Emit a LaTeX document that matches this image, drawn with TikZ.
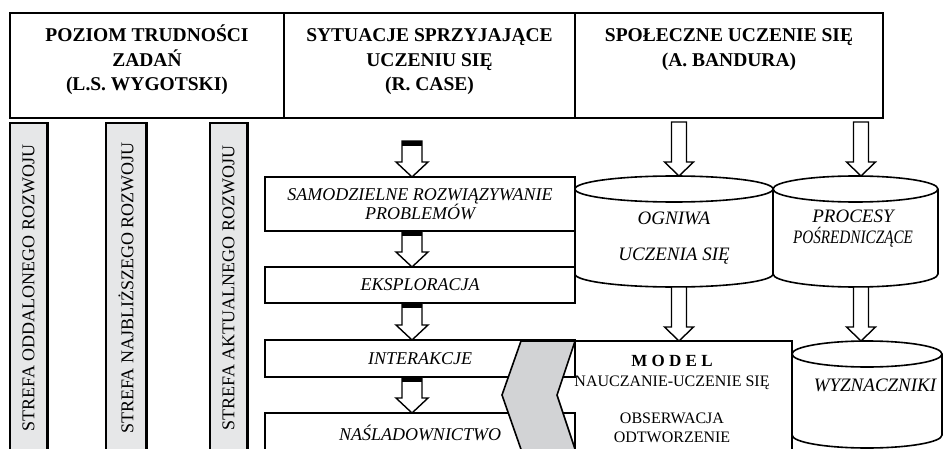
\documentclass[tikz,border=0pt]{standalone}
\usepackage{fontspec}
\setmainfont{Liberation Serif}
\usepackage{graphicx}
\usetikzlibrary{positioning,calc}
\definecolor{stripgray}{HTML}{E6E7E8}
\definecolor{arrowgray}{HTML}{D2D3D5}

% block arrow: shaft half width, head half width, head length, from, to
\newcommand{\fatarrow}[5]{%
  \draw[fatline] let \p1=(#4), \p2=(#5) in
    (\x1-#1pt,\y1) -- (\x1+#1pt,\y1) -- (\x1+#1pt,\y2+#3pt) -- (\x1+#2pt,\y2+#3pt)
    -- (\x1,\y2) -- (\x1-#2pt,\y2+#3pt) -- (\x1-#1pt,\y2+#3pt) -- cycle;}
\newcommand{\capband}[1]{%
  \fill let \p1=(#1) in (\x1-10pt,\y1) rectangle (\x1+10pt,\y1-5pt);}
% cylinder outline round a node: node name, x radius
\newcommand{\drumline}[2]{%
  \draw[drum line] ($(#1.north)+(0,13)$) ellipse[x radius=#2, y radius=13];
  \draw[drum line] ($(#1.north west)+(0,13)$) -- ($(#1.south west)+(0,-13)$)
    arc[start angle=180, end angle=0, x radius=#2, y radius=13]
    -- ($(#1.north east)+(0,13)$);}

\begin{document}
\begin{tikzpicture}[x=1pt, y=-1pt,
    hdrbox/.style={draw, line width=1.6, minimum height=105, inner sep=0, outer sep=0},
    hdrtext/.style={font=\fontsize{19.5}{24.5}\selectfont\bfseries, align=center, inner sep=0, anchor=base},
    strip/.style={draw, line width=1.1, fill=stripgray, rotate=90, minimum width=330, inner sep=0,
      font=\fontsize{18}{20}\selectfont},
    stepbox/.style={draw, line width=1.5, minimum width=310, inner sep=0, outer sep=0, align=center,
      font=\fontsize{18}{19}\selectfont\itshape},
    fatline/.style={draw, fill=white, line width=1.4},
    drum/.style={inner sep=0, outer sep=0},
    drum line/.style={line width=1.6},
    drumtext/.style={font=\fontsize{19}{21}\selectfont\itshape, align=center, inner sep=0},
    modeltext/.style={font=\fontsize{16}{19.5}\selectfont, align=center, inner sep=0},
    boxline/.style={line width=1.6}]
  \clip (0,0) rectangle (944,449);

  % header (text placed by the baseline of its last line)
  \node[hdrbox, minimum width=274] (zad) at (147,65.5) {};
  \node[hdrbox, minimum width=291] (sit) at (429.5,65.5) {};
  \node[hdrbox, minimum width=308] (spo) at (729,65.5) {};
  \node[hdrtext] (zad-t) at (147,91) {POZIOM TRUDNOŚCI\\ZADAŃ\\(L.S. WYGOTSKI)};
  \node[hdrtext] (sit-t) at (429.5,91) {SYTUACJE SPRZYJAJĄCE\\UCZENIU SIĘ\\(R. CASE)};
  \node[hdrtext] (spo-t) at (729,66.5) {SPOŁECZNE UCZENIE SIĘ\\(A. BANDURA)};

  % strefy
  \node[strip, minimum height=37] (odd) at (28.5,288) {STREFA ODDALONEGO ROZWOJU};
  \node[strip, minimum height=40] (naj) at (126,288) {STREFA NAJBLIŻSZEGO ROZWOJU};
  \node[strip, minimum height=37] (akt) at (228.5,288) {STREFA AKTUALNEGO ROZWOJU};
  \foreach \s in {odd,naj,akt}
    \draw[line width=2.2] (\s.south west) -- (\s.south east);

  % sytuacje
  \node[stepbox, minimum height=54] (sam) at (420,204) {SAMODZIELNE ROZWIĄZYWANIE\\PROBLEMÓW};
  \node[stepbox, minimum height=36, below=36pt of sam] (eks) {EKSPLORACJA};
  \node[stepbox, minimum height=37, below=37pt of eks] (int) {INTERAKCJE};
  \node[stepbox, minimum height=40, below=36pt of int] (nas) {NAŚLADOWNICTWO};

  \coordinate (sit-in) at (412,141);
  \fatarrow{10}{16}{15}{sit-in}{sit-in |- sam.north}
  \capband{sit-in}
  \fatarrow{10}{16}{15}{sit-in |- sam.south}{sit-in |- eks.north}
  \capband{sit-in |- sam.south}
  \fatarrow{10}{16}{15}{sit-in |- eks.south}{sit-in |- int.north}
  \capband{sit-in |- eks.south}
  \fatarrow{10}{16}{15}{sit-in |- int.south}{sit-in |- nas.north}
  \capband{sit-in |- int.south}

  % bandura
  \node[drum, minimum width=198, minimum height=111] (ogn) at (674,231.5) {};
  \node[drum, minimum width=165, minimum height=111] (pro) at (855.5,231.5) {};
  \node[drum, minimum width=150, minimum height=107] (wyz) at (867,394.5) {};
  \drumline{ogn}{99}
  \drumline{pro}{82.5}
  \drumline{wyz}{75}
  \node[drumtext] (ogn-t) at (674,238.5) {OGNIWA\\[15pt]UCZENIA SIĘ};
  \node[drumtext] (pro-t) at (853,229) {PROCESY\\\scalebox{0.8}[1]{POŚREDNICZĄCE}};
  \node[drumtext] (wyz-t) at (875,385) {WYZNACZNIKI};

  \node[drum, minimum width=217, minimum height=119, anchor=north west] (model) at (575,341) {};
  \draw[boxline] (model.north west) -- (model.north east) -- (model.south east);

  \coordinate (ogn-in) at (679,122);
  \coordinate (pro-in) at (861,122);
  \fatarrow{7.5}{14.5}{14}{ogn-in}{ogn-in |- ogn.north}
  \fatarrow{7.5}{14.5}{14}{pro-in}{pro-in |- pro.north}
  \fatarrow{7.5}{14.5}{14}{ogn-in |- ogn.south}{ogn-in |- model.north}
  \fatarrow{7.5}{14.5}{14}{pro-in |- pro.south}{pro-in |- wyz.north}

  % model
  \draw[boxline, fill=arrowgray] (521,341) -- (575,341) -- (557,395) -- (577,455)
    -- (523,455) -- (502,395) -- cycle;
  \node[modeltext] (model-t) at (672,399) {{\fontsize{17}{19}\selectfont\bfseries M O D E L}\\
    NAUCZANIE-UCZENIE SIĘ\\[17.5pt]OBSERWACJA\\ODTWORZENIE};
\end{tikzpicture}
\end{document}
